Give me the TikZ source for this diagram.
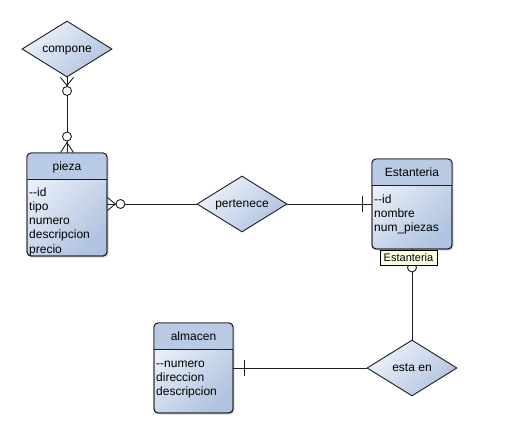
\documentclass[tikz,border=0pt]{standalone}
\usepackage{fontspec}
\setmainfont{Liberation Sans}
\usetikzlibrary{shapes.geometric,shadows,calc}
\definecolor{headfill}{HTML}{B9CAE4}
\definecolor{bodylight}{HTML}{EEF2FA}
\definecolor{bodydark}{HTML}{B0C3E0}
\definecolor{linec}{HTML}{1E1E1E}
\definecolor{tipfill}{HTML}{FFFFE1}
\tikzset{
  entitybox/.style={draw=linec, line width=0.9pt, rounded corners=4pt,
    top color=bodylight, bottom color=bodydark, shading angle=45,
    drop shadow={shadow xshift=1.5pt, shadow yshift=-1.5pt, opacity=.3},
    inner sep=0},
  rel/.style={diamond, draw=linec, line width=0.9pt, top color=bodylight,
    bottom color=bodydark, shading angle=45, minimum width=90pt,
    minimum height=56pt, inner sep=0, aspect=1.6, text depth=0pt,
    font=\fontsize{12}{14}\selectfont},
  conn/.style={draw=linec, line width=0.9pt},
  ring/.style={draw=linec, fill=white, line width=0.9pt},
  titletext/.style={anchor=base, inner sep=0, font=\fontsize{12}{14}\selectfont},
  attrtext/.style={anchor=base west, inner sep=0, font=\fontsize{12}{14}\selectfont},
  tiplabel/.style={draw=black, fill=tipfill, line width=0.6pt, minimum width=57pt,
    minimum height=15pt, inner sep=0, font=\fontsize{11}{13}\selectfont}
}
% #1 name, #2 x1, #3 y1, #4 x2, #5 y2, #6 header y, #7 title, #8 first baseline, #9 attrs
\newcommand\erentity[9]{%
  \node[entitybox, minimum width={#4-#2}, minimum height={#5-#3}] (#1) at ({(#2+#4)/2},{(#3+#5)/2}) {};
  \begin{scope}
    \clip[rounded corners=4pt] (#2,#3) rectangle (#4,#5);
    \fill[headfill] (#2,#3) rectangle (#4,#6);
  \end{scope}
  \draw[conn] (#2,#6) -- (#4,#6);
  \draw[conn, rounded corners=4pt] (#2,#3) rectangle (#4,#5);
  \node[titletext] (#1-title) at ({(#2+#4)/2},{(#3+#6)/2+4.3}) {#7};
  \foreach \a [count=\i] in {#9} {
    \node[attrtext] (#1-a\i) at ({#2+2},{#8+(\i-1)*14}) {\a};
  }
}
\begin{document}
\begin{tikzpicture}[x=1pt,y=-1pt]
\fill[white] (0,0) rectangle (524,438);
\useasboundingbox (0,0) rectangle (524,438);

% relationships
\node[rel] (compone) at (67,49) {compone};
\node[rel] (pertenece) at (242,204) {pertenece};
\node[rel] (estaen) at (412,368) {esta en};

% entities
\erentity{pieza}{27}{153}{107}{256}{179}{pieza}{197}{-{}-id,tipo,numero,descripcion,precio}
\erentity{estanteria}{372}{159}{452}{249}{185}{Estanteria}{204}{-{}-id,nombre,num\_piezas}
\erentity{almacen}{154}{323}{233}{413}{349}{almacen}{367}{-{}-numero,direccion,descripcion}

% compone -- pieza (zero or many at both ends)
\draw[conn] (compone.south) -- (pieza.north);
\draw[conn] ($(compone.south)+(-6.5,0)$) -- ($(compone.south)+(0,8)$) -- ($(compone.south)+(6.5,0)$);
\draw[ring] ($(compone.south)+(0,13.5)$) circle[radius=4.5];
\draw[conn] ($(pieza.north)+(-6.5,0)$) -- ($(pieza.north)+(0,-10)$) -- ($(pieza.north)+(6.5,0)$);
\draw[ring] ($(pieza.north)+(0,-16)$) circle[radius=4.5];

% pieza -- pertenece
\coordinate (pz) at (pertenece.west -| pieza.east);
\draw[conn] (pz) -- (pertenece.west);
\draw[conn] ($(pz)+(0,-6.5)$) -- ($(pz)+(8,0)$) -- ($(pz)+(0,6.5)$);
\draw[ring] ($(pz)+(13,0)$) circle[radius=4.5];

% pertenece -- estanteria
\coordinate (es) at (pertenece.east -| estanteria.west);
\draw[conn] (pertenece.east) -- (es);
\draw[conn] ($(es)+(-9,-8)$) -- ($(es)+(-9,8)$);

% estanteria -- esta en
\draw[conn] (estanteria.south) -- (estaen.north);
\draw[ring] ($(estanteria.south)+(0,18)$) circle[radius=4.5];
\node[tiplabel] (tip) at (408.5,257.5) {Estanteria};

% almacen -- esta en
\coordinate (al) at (estaen.west -| almacen.east);
\draw[conn] (al) -- (estaen.west);
\draw[conn] ($(al)+(11,-8)$) -- ($(al)+(11,8)$);
\end{tikzpicture}
\end{document}
